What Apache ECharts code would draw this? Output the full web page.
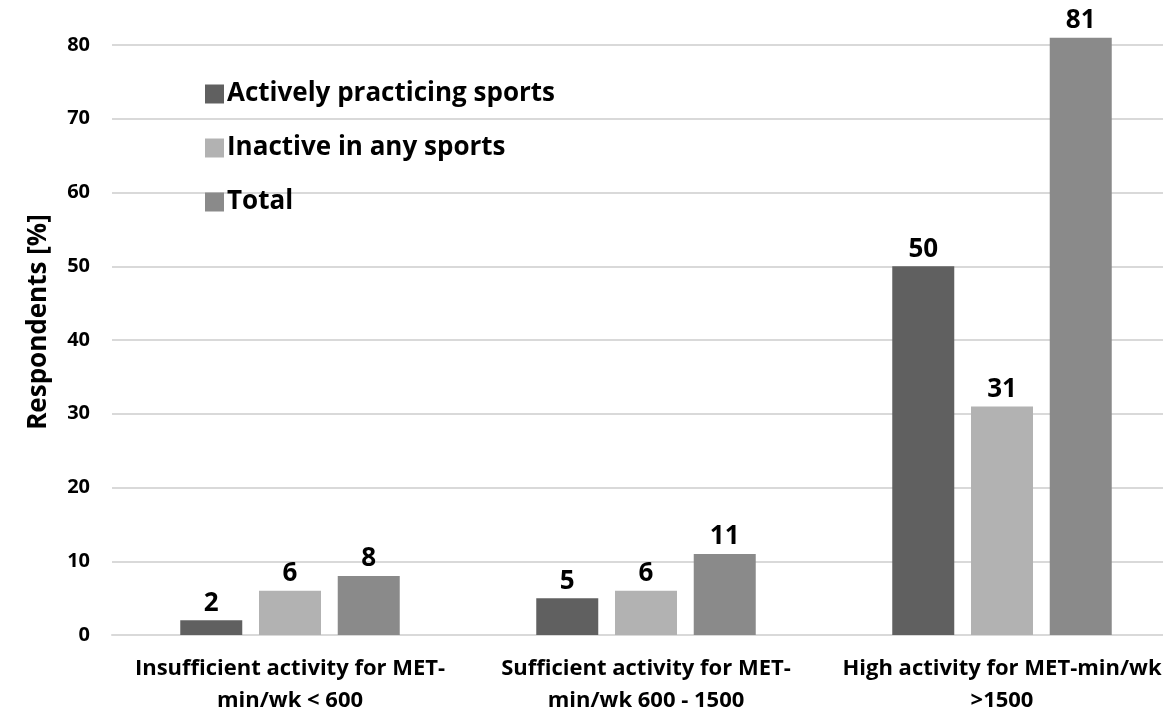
<!DOCTYPE html>
<html>
<head>
<meta charset="utf-8">
<script src="https://cdn.jsdelivr.net/npm/echarts@6/dist/echarts.min.js"></script>
<style>
  html, body { margin: 0; padding: 0; background: #fff; overflow: hidden; width: 1163px; height: 708px; }
  #chart { width: 1180px; height: 730px; }
</style>
</head>
<body>
<div id="chart"></div>
<script>
const categories = [
  'Insufficient activity for MET-\nmin/wk < 600',
  'Sufficient activity for MET-\nmin/wk 600 - 1500',
  'High activity for MET-min/wk\n>1500'
];
const seriesNames = ['Actively practicing sports', 'Inactive in any sports', 'Total'];
const activeValues = [2, 5, 50];
const inactiveValues = [6, 6, 31];
const totalValues = [8, 11, 81];
const yTicks = { min: 0, max: 80, interval: 10 };

const FONT = '"Open Sans", sans-serif';
const colors = ['#606060', '#b2b2b2', '#8a8a8a'];

const labelStyle = {
  show: true,
  position: 'top',
  distance: 4,
  color: '#000',
  fontFamily: FONT,
  fontWeight: 'bold',
  fontSize: 26
};

function makeSeries(name, data, color) {
  return {
    name: name,
    type: 'bar',
    data: data,
    barWidth: 62,
    barGap: '27%',
    clip: false,
    itemStyle: { color: color },
    label: labelStyle
  };
}

const chart = echarts.init(document.getElementById('chart'));
chart.setOption({
  animation: false,
  color: colors,
  grid: { left: 112, right: 0, top: 45, bottom: 95, containLabel: false },
  legend: {
    orient: 'vertical',
    left: 200,
    top: 76,
    itemWidth: 19,
    itemHeight: 19,
    itemGap: 28,
    icon: 'rect',
    textStyle: { fontFamily: FONT, fontWeight: 'bold', fontSize: 26, color: '#000', padding: [0, 0, 0, -2] },
    data: seriesNames
  },
  xAxis: {
    type: 'category',
    data: categories,
    axisLine: { show: true, lineStyle: { color: '#d9d9d9', width: 2 } },
    axisTick: { show: false },
    axisLabel: {
      interval: 0,
      color: '#000',
      fontFamily: FONT,
      fontWeight: 'bold',
      fontSize: 22,
      lineHeight: 32,
      margin: 18
    }
  },
  yAxis: {
    type: 'value',
    min: yTicks.min,
    max: yTicks.max,
    interval: yTicks.interval,
    name: 'Respondents [%]',
    nameLocation: 'middle',
    nameGap: 60,
    nameTextStyle: { color: '#000', fontFamily: FONT, fontWeight: 'bold', fontSize: 26, padding: [0, 0, 0, 36] },
    axisLine: { show: false },
    axisTick: { show: false },
    axisLabel: { color: '#000', fontFamily: FONT, fontWeight: 'bold', fontSize: 20, margin: 22 },
    splitLine: { lineStyle: { color: '#d9d9d9', width: 2 } }
  },
  series: [
    makeSeries(seriesNames[0], activeValues, colors[0]),
    makeSeries(seriesNames[1], inactiveValues, colors[1]),
    makeSeries(seriesNames[2], totalValues, colors[2])
  ]
});
</script>
</body>
</html>
